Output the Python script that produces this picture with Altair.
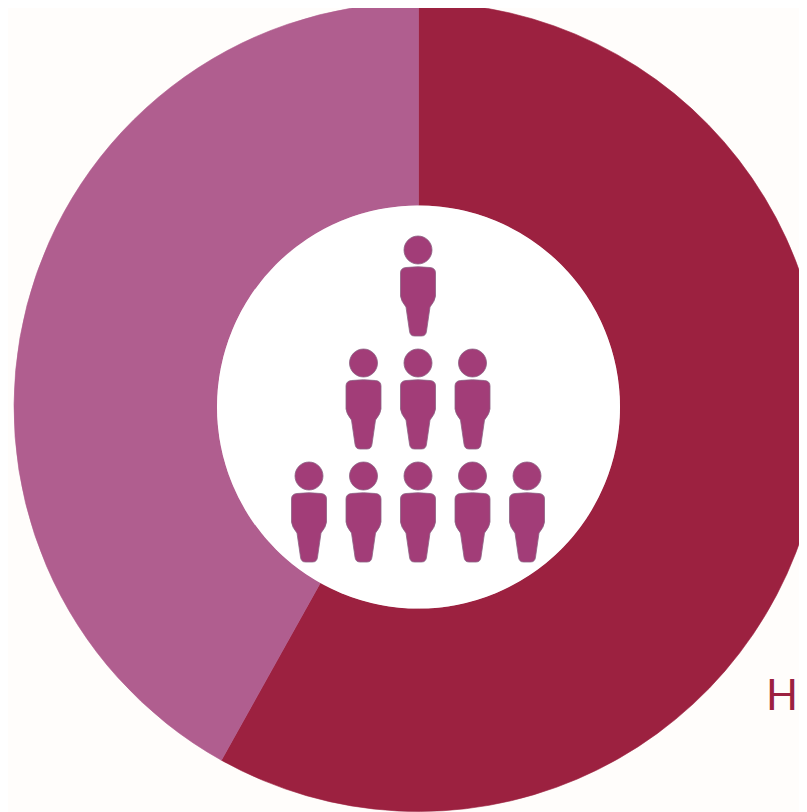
import altair as alt
import pandas as pd

segments = ["Dark", "Light"]
shares = [58.1, 41.9]
segment_colors = ["#9c2140", "#b05e8f"]

columns = [0, -1, 0, 1, -2, -1, 0, 1, 2]
rows = [0, 1, 1, 1, 2, 2, 2, 2, 2]

label_text = ["H"]

PERSON = (
    "M-.35 -.26 Q-.35 -.36 -.24 -.37 Q0 -.4 .24 -.37 Q.35 -.36 .35 -.26 "
    "L.35 .2 Q.34 .3 .24 .42 L.17 .9 Q.16 1 .07 1 L-.07 1 Q-.16 1 -.17 .9 "
    "L-.24 .42 Q-.34 .3 -.35 .2 Z "
    "M-.28 -.72 A.28 .28 0 1 1 .28 -.72 A.28 .28 0 1 1 -.28 -.72 Z"
)

W, H = 791, 804
CX, CY = 410.5, 399

ring_df = pd.DataFrame({"segment": segments, "share": shares, "order": [0, 1]})
people_df = pd.DataFrame({"col": columns, "row": rows})
label_df = pd.DataFrame({"label": label_text})

ring = (
    alt.Chart(ring_df)
    .mark_arc(outerRadius=404.5, innerRadius=201.5, strokeWidth=0.6)
    .encode(
        theta=alt.Theta("share:Q", stack=True),
        color=alt.Color(
            "segment:N",
            scale=alt.Scale(domain=segments, range=segment_colors),
            legend=None,
        ),
        stroke=alt.Color(
            "segment:N",
            scale=alt.Scale(domain=segments, range=segment_colors),
            legend=None,
        ),
        order=alt.Order("order:Q"),
        x=alt.value(CX),
        y=alt.value(CY),
    )
)

hole = (
    alt.Chart(ring_df.head(1))
    .mark_arc(outerRadius=201.5, innerRadius=0, color="#ffffff", theta=0, theta2=6.2832)
    .encode(x=alt.value(CX), y=alt.value(CY))
)

people = (
    alt.Chart(people_df)
    .mark_point(
        shape=PERSON,
        filled=True,
        fill="#a23d78",
        stroke="#8c6284",
        strokeWidth=0.8,
        opacity=1,
        size=10000,
    )
    .encode(
        x=alt.X("col:Q", scale=alt.Scale(domain=[-2, 2], range=[301, 519]), axis=None),
        y=alt.Y("row:Q", scale=alt.Scale(domain=[0, 2], range=[278, 504]), axis=None),
    )
)

label = (
    alt.Chart(label_df)
    .mark_text(
        font="Lato",
        fontSize=42,
        fontWeight=400,
        color="#9c2140",
        align="left",
        baseline="alphabetic",
    )
    .encode(text="label:N", x=alt.value(758), y=alt.value(702))
)

chart = (
    alt.layer(ring, hole, people, label)
    .resolve_scale(color="independent", stroke="independent")
    .properties(
        width=W,
        height=H,
        background="#fffdfb",
        padding=0,
        autosize=alt.AutoSizeParams(type="none", contains="padding"),
    )
    .configure_view(stroke=None)
)

chart.save("out.html", embed_options={"renderer": "svg", "actions": False})
